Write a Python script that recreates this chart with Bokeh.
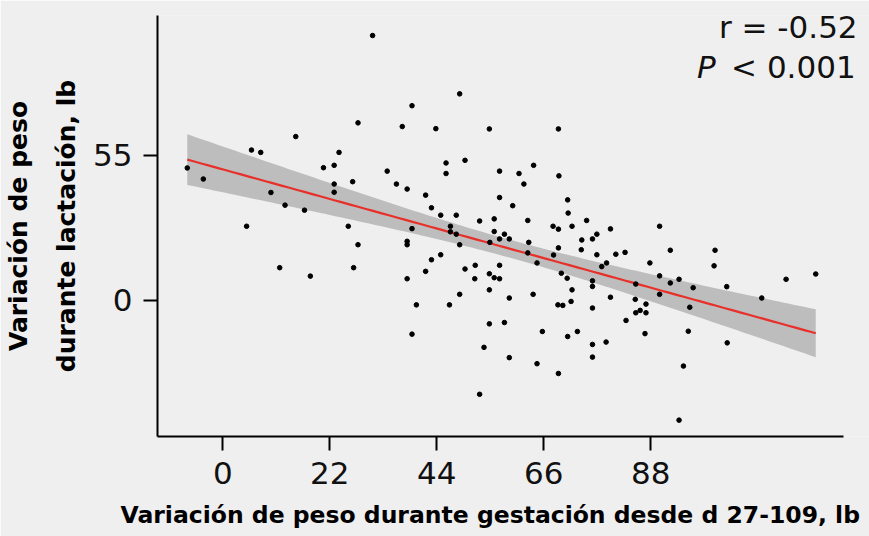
import numpy as np
from bokeh.plotting import figure
from bokeh.models import Range1d, FixedTicker, Label, ColumnDataSource, Title
from bokeh.embed import file_html
from bokeh.resources import INLINE

# ---- data ----
gest_gain = [30.8, 48.7, 38.9, 27.8, 36.9, 43.8, 54.8, 15.0, 5.9, 7.8,
             23.9, -7.3, 20.7, 22.9, 45.9, 49.8, 33.8, 56.9, 45.9, -4.0,
             26.7, 22.9, 35.7, 37.9, 9.9, 22.9, 41.7, 56.9, 12.8, 59.6,
             42.9, 16.8, 44.8, 48.0, 52.8, 55.8,
             4.9, 25.8, 38.9, 46.8, 46.8, 48.0, 55.8, 57.9, 56.9,
             58.9, 54.9, 37.9, 37.9, 27.8, 48.7, 44.8, 42.9, 11.7, 26.9,
             41.7, 51.9, 49.8, 56.9, 54.8, 55.8, 56.9, 51.8, 18.0, 37.9,
             54.8, 48.7, 58.9, 39.8, 46.6, 54.8, 57.9, 38.9, 53.7, 58.9, 52.8,
             69.0, 60.9, 63.9, 69.1, 61.9, 70.9, 71.0, 62.7, 74.8,
             67.9, 69.0, 71.8, 79.7, 89.8, 62.9, 73.8, 76.0, 76.9, 62.7,
             68.0, 69.0, 73.7, 76.9, 80.8, 82.7, 92.0, 101.2, 64.6, 78.9,
             77.9, 87.8, 101.0, 69.6, 70.8, 76.0, 76.0, 89.8, 92.0, 93.8,
             96.7, 103.6, 115.8, 121.9, 84.9, 71.8, 63.8, 79.7, 84.8, 89.8,
             68.9, 69.9, 71.6, 76.0, 87.0, 84.9, 85.8, 87.0, 96.0, 110.8,
             82.9, 65.7, 72.9, 70.9, 78.8, 76.0, 86.8, 95.7, 103.7, 64.6,
             76.0, 69.0, 94.7, 93.8]
lact_change = [100.3, 78.2, 73.7, 67.2, 65.8, 65.0, 64.9, 62.0, 56.9, 56.0,
               56.0, 50.1, 50.2, 51.1, 52.0, 53.0, 48.9, 48.9, 48.0, 45.9,
               44.9, 44.0, 44.0, 42.1, 40.8, 40.9, 39.8, 38.9, 36.0, 35.8,
               35.0, 34.1, 32.2, 32.2, 30.0, 30.8,
               28.0, 28.0, 27.1, 28.0, 25.9, 25.0, 26.0, 25.0, 23.2,
               23.2, 21.9, 22.3, 21.0, 21.0, 21.0, 17.2, 15.3, 12.3, 12.3,
               10.9, 13.2, 11.8, 13.2, 10.0, 8.5, 8.1, 8.1, 9.1, 8.1,
               3.9, 2.2, 0.8, -1.8, -1.8, -9.0, -8.5, -12.9, -17.9, -21.8, -35.7,
               64.9, 48.0, 51.1, 47.1, 44.0, 38.0, 33.0, 30.2, 30.2,
               28.0, 26.9, 28.0, 27.0, 28.0, 21.9, 22.8, 23.2, 25.0, 17.9,
               17.1, 19.8, 19.1, 17.2, 17.4, 18.1, 18.9, 18.9, 14.1, 14.1,
               12.7, 14.1, 13.0, 10.2, 8.3, 7.3, 5.2, 9.2, 6.5, 7.9,
               4.7, 5.1, 7.9, 9.9, 6.1, 3.9, 2.2, 1.1, 0.3, 2.2,
               -1.8, -2.0, -0.5, -3.0, -1.5, -4.8, -3.9, -4.8, -2.7, 0.8,
               -7.7, -11.9, -11.9, -13.8, -15.9, -16.8, -12.7, -11.8, -16.2, -24.1,
               -21.6, -27.8, -25.0, -45.5]
x_ticks = [0, 22, 44, 66, 88]
y_ticks = [0, 55]
x_axis_span = (-13.5, 127.7)
r_text = "r = -0.52"
p_italic = "P"
p_rest = "< 0.001"
x_title = "Variación de peso durante gestación desde d 27-109, lb"
y_title = "Variación de peso\ndurante lactación, lb"

# ---- linear fit with 95% confidence band ----
xa = np.array(gest_gain)
ya = np.array(lact_change)
n = len(xa)
b1, b0 = np.polyfit(xa, ya, 1)
resid = ya - (b0 + b1 * xa)
s = np.sqrt(np.sum(resid ** 2) / (n - 2))
sxx = np.sum((xa - xa.mean()) ** 2)
t_crit = 1.976
xg = np.linspace(xa.min(), xa.max(), 120)
yg = b0 + b1 * xg
hw = t_crit * s * np.sqrt(1.0 / n + (xg - xa.mean()) ** 2 / sxx)

BG = "#efefef"
FONT = "DejaVu Sans"

p = figure(width=869, height=536, output_backend="svg", toolbar_location=None,
           x_range=Range1d(-13.42, 132.95), y_range=Range1d(-51.7, 107.9),
           min_border_left=157, min_border_right=0, min_border_top=15,
           min_border_bottom=100)
p.background_fill_color = BG
p.border_fill_color = BG
p.outline_line_color = None
p.xgrid.visible = False
p.ygrid.visible = False

p.varea(x=xg, y1=yg - hw, y2=yg + hw, fill_color="#bdbdbd", fill_alpha=1.0)
p.line(xg, yg, line_color="#e8302a", line_width=2.2)
src = ColumnDataSource(dict(x=gest_gain, y=lact_change))
p.scatter("x", "y", source=src, size=4.6, fill_color="black", line_color="black")

for ax in (p.xaxis[0], p.yaxis[0]):
    ax.axis_line_width = 2
    ax.axis_line_color = "black"
    ax.major_tick_line_width = 2
    ax.major_tick_line_color = "black"
    ax.major_tick_out = 14
    ax.major_tick_in = 0
    ax.minor_tick_line_color = None
    ax.major_label_text_font = FONT
    ax.major_label_text_font_size = "31px"
    ax.major_label_text_color = "#111111"
    ax.major_label_standoff = 11
    ax.axis_label_text_font = FONT
    ax.axis_label_text_font_style = "bold"
    ax.axis_label_text_color = "black"

p.xaxis.ticker = FixedTicker(ticks=x_ticks)
p.xaxis.bounds = x_axis_span
# blank axis label only reserves a little room between tick labels and the title
p.xaxis.axis_label = " "
p.xaxis.axis_label_text_font_size = "4px"
p.xaxis.axis_label_standoff = 0
p.yaxis.ticker = FixedTicker(ticks=y_ticks)
p.yaxis.axis_label = y_title
p.yaxis.axis_label_text_font_size = "25px"
p.yaxis.axis_label_text_line_height = 1.65
p.yaxis.axis_label_standoff = 9

p.add_layout(Title(text=x_title, align="left", offset=-37, vertical_align="top",
                   standoff=12, text_font=FONT, text_font_style="bold",
                   text_font_size="23.5px", text_color="black"), "below")

p.add_layout(Label(x=130.5, y=103.7, text=r_text, text_align="right",
                   text_baseline="alphabetic", text_font=FONT,
                   text_font_size="31px", text_color="#111111"))
p.add_layout(Label(x=130.1, y=88.5, text=p_rest, text_align="right",
                   text_baseline="alphabetic", text_font=FONT,
                   text_font_size="31px", text_color="#111111"))
p.add_layout(Label(x=97.5, y=88.5, text=p_italic, text_align="left",
                   text_baseline="alphabetic", text_font=FONT,
                   text_font_style="italic",
                   text_font_size="31px", text_color="#111111"))

open("out.html", "w").write(file_html(p, INLINE))
